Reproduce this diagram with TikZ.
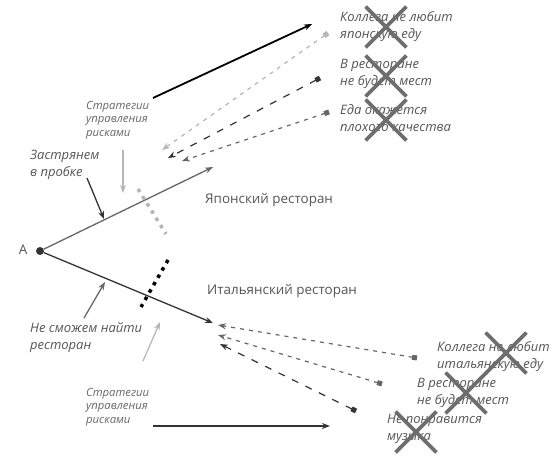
\documentclass[tikz,border=0pt]{standalone}
\usepackage{fontspec}
\setmainfont{Open Sans}
\usetikzlibrary{arrows.meta,shapes.misc}
\definecolor{txt}{HTML}{555555}
\definecolor{midg}{HTML}{666666}
\definecolor{darkg}{HTML}{333333}
\definecolor{lightg}{HTML}{B5B5B5}
\definecolor{crossg}{HTML}{6E6E6E}
\tikzset{
  lbl/.style={anchor=north west,inner sep=0pt,align=left,text=txt,font=\fontsize{13}{17}\selectfont\itshape},
  small/.style={anchor=north west,inner sep=0pt,align=left,text=midg,font=\fontsize{11.3}{13.5}\selectfont\itshape},
  rlbl/.style={anchor=north west,inner sep=0pt,text=txt,font=\fontsize{13.4}{15}\selectfont},
  xmark/.style={cross out,draw=crossg,line width=3.8pt,minimum size=37pt,inner sep=0pt},
  tip/.style={-{Stealth[length=8pt,width=6pt]}},
  sqtip/.style={{Square[length=5pt,width=5pt]}-{Stealth[length=8pt,width=6pt]}},
  sqdots/.style={line width=3.5pt,dash pattern=on 3.5pt off 5pt},
}
\begin{document}
\begin{tikzpicture}[x=1pt,y=-1pt]
\useasboundingbox (0,0) rectangle (556,458);
% start point
\node[circle,fill=darkg,inner sep=0pt,minimum size=8pt] (A) at (40,251) {};
\node[rlbl,anchor=center] (Alab) at (23,250) {А};
% coordinates
\coordinate (jend) at (213,167);
\coordinate (iend) at (213,323);
\draw[midg,line width=1.3pt,tip] (A) -- (jend);
\draw[darkg,line width=1.3pt,tip] (A) -- (iend);
\node[rlbl] (jlab) at (205,193) {Японский ресторан};
\node[rlbl] (ilab) at (207,284) {Итальянский ресторан};
% top strategy arrow
\coordinate (ts) at (153,98);
\coordinate (te) at (312,24);
\draw[black,line width=1.8pt,tip] (ts) -- (te);
% upper risks
\coordinate (u1s) at (328,33); \coordinate (u1e) at (162,150);
\coordinate (u2s) at (320,78); \coordinate (u2e) at (168,158);
\coordinate (u3s) at (329,112); \coordinate (u3e) at (182,161);
\draw[lightg,line width=1.2pt,dash pattern=on 4pt off 5pt,sqtip] (u1s) -- (u1e);
\draw[darkg,line width=1.2pt,dash pattern=on 7pt off 8pt,sqtip] (u2s) -- (u2e);
\draw[midg,line width=1.2pt,dash pattern=on 4pt off 5pt,sqtip] (u3s) -- (u3e);
\node[lbl] (r1) at (340,11) {Коллега не любит\\японскую еду};
\node[lbl] (r2) at (340,59) {В ресторане\\не будет мест};
\node[lbl] (r3) at (340,104) {Еда окажется\\плохого качества};
\node[xmark] (x1) at (386,27) {};
\node[xmark] (x2) at (386,76) {};
\node[xmark] (x3) at (386,120) {};
% left labels
\node[small] (s1) at (86,101) {Стратегии\\управления\\рисками};
\coordinate (s1a) at (123,150); \coordinate (s1b) at (123,193);
\draw[lightg,line width=1.2pt,tip] (s1a) -- (s1b);
\node[lbl] (z) at (30,150) {Застрянем\\в пробке};
\coordinate (za) at (87,178); \coordinate (zb) at (104,219);
\draw[darkg,line width=1.3pt,tip] (za) -- (zb);
\coordinate (d1a) at (138,189); \coordinate (d1b) at (166,234);
\draw[lightg,sqdots] (d1a) -- (d1b);
\coordinate (d2a) at (168,260); \coordinate (d2b) at (141,307);
\draw[black,sqdots] (d2a) -- (d2b);
\node[lbl] (n) at (30,322) {Не сможем найти\\ресторан};
\coordinate (na) at (84,318); \coordinate (nb) at (105,282);
\draw[midg,line width=1.3pt,tip] (na) -- (nb);
\coordinate (la) at (143,361); \coordinate (lb) at (160,322);
\draw[lightg,line width=1.2pt,tip] (la) -- (lb);
\node[small] (s2) at (86,388) {Стратегии\\управления\\рисками};
\coordinate (bs) at (153,426); \coordinate (be) at (330,426);
\draw[darkg,line width=2pt,tip] (bs) -- (be);
% lower risks
\coordinate (l1s) at (417,358); \coordinate (l1e) at (218,325);
\coordinate (l2s) at (382,384); \coordinate (l2e) at (218,335);
\coordinate (l3s) at (356,411); \coordinate (l3e) at (220,344);
\draw[midg,line width=1.2pt,dash pattern=on 4pt off 5pt,sqtip] (l1s) -- (l1e);
\draw[midg,line width=1.2pt,dash pattern=on 4pt off 5pt,sqtip] (l2s) -- (l2e);
\draw[darkg,line width=1.2pt,dash pattern=on 7pt off 8pt,sqtip] (l3s) -- (l3e);
\node[lbl] (q1) at (437,341) {Коллега не любит\\итальянскую еду};
\node[lbl] (q2) at (417,378) {В ресторане\\не будет мест};
\node[lbl] (q3) at (387,414) {Не понравится\\музыка};
\node[xmark] (y1) at (506,353) {};
\node[xmark] (y2) at (466,393) {};
\node[xmark] (y3) at (416,432) {};
\end{tikzpicture}
\end{document}
